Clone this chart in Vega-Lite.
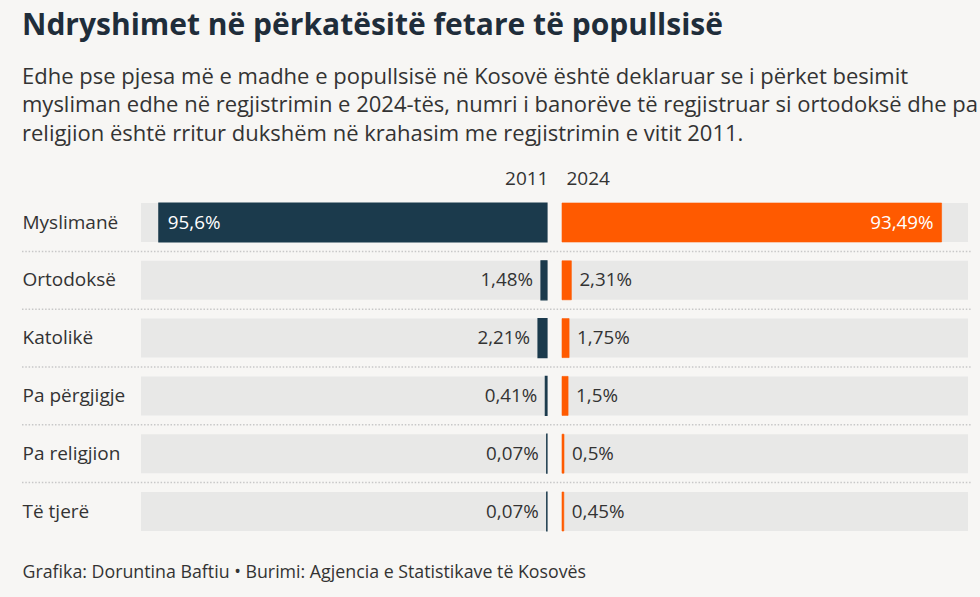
{
  "$schema": "https://vega.github.io/schema/vega-lite/v6.json",
  "width": 829,
  "height": 346.8,
  "autosize": {"type": "none"},
  "padding": {"left": 141, "top": 193.6, "right": 10, "bottom": 56.6},
  "background": "#f7f6f4",
  "title": {
    "text": "Ndryshimet në përkatësitë fetare të popullsisë",
    "subtitle": [
      "Edhe pse pjesa më e madhe e popullsisë në Kosovë është deklaruar se i përket besimit",
      "mysliman edhe në regjistrimin e 2024-tës, numri i banorëve të regjistruar si ortodoksë dhe pa",
      "religjion është rritur dukshëm në krahasim me regjistrimin e vitit 2011."
    ],
    "anchor": "start",
    "frame": "group",
    "dx": -119,
    "offset": 25,
    "font": "Open Sans",
    "fontSize": 30,
    "fontWeight": "bold",
    "color": "#1f2d3a",
    "subtitleFont": "Open Sans",
    "subtitleFontSize": 22,
    "subtitleColor": "#333333",
    "subtitleLineHeight": 28.5,
    "subtitlePadding": 26
  },
  "data": {
    "values": [
      {"religion": "Myslimanë", "v2011": 95.6, "v2024": 93.49, "l2011": "95,6%", "l2024": "93,49%"},
      {"religion": "Ortodoksë", "v2011": 1.48, "v2024": 2.31, "l2011": "1,48%", "l2024": "2,31%"},
      {"religion": "Katolikë", "v2011": 2.21, "v2024": 1.75, "l2011": "2,21%", "l2024": "1,75%"},
      {"religion": "Pa përgjigje", "v2011": 0.41, "v2024": 1.5, "l2011": "0,41%", "l2024": "1,5%"},
      {"religion": "Pa religjion", "v2011": 0.07, "v2024": 0.5, "l2011": "0,07%", "l2024": "0,5%"},
      {"religion": "Të tjerë", "v2011": 0.07, "v2024": 0.45, "l2011": "0,07%", "l2024": "0,45%"}
    ]
  },
  "encoding": {
    "y": {
      "field": "religion",
      "type": "nominal",
      "sort": null,
      "scale": {
        "domain": ["Myslimanë", "Ortodoksë", "Katolikë", "Pa përgjigje", "Pa religjion", "Të tjerë"],
        "paddingInner": 0,
        "paddingOuter": 0
      },
      "axis": {
        "title": null,
        "orient": "left",
        "domain": false,
        "ticks": false,
        "tickSize": 0,
        "labelAlign": "left",
        "labelPadding": 119,
        "labelFont": "Open Sans",
        "labelFontSize": 19,
        "labelColor": "#333333",
        "labelBaseline": "middle"
      }
    }
  },
  "layer": [
    {
      "mark": {"type": "bar", "height": {"band": 0.675}, "color": "#e8e8e7"},
      "encoding": {
        "x": {
          "datum": 0,
          "type": "quantitative",
          "scale": {"domain": [0, 100], "range": [406, 0]},
          "axis": {
            "orient": "top",
            "title": "2011",
            "labels": false,
            "ticks": false,
            "domain": false,
            "grid": false,
            "titleX": 407,
            "titleAlign": "right",
            "titlePadding": 5,
            "titleFont": "Open Sans",
            "titleFontSize": 19,
            "titleFontWeight": "normal",
            "titleColor": "#333333"
          }
        },
        "x2": {"datum": 100}
      }
    },
    {
      "mark": {"type": "bar", "height": {"band": 0.675}, "color": "#e8e8e7"},
      "encoding": {
        "x": {
          "datum": 0,
          "type": "quantitative",
          "scale": {"domain": [0, 100], "range": [421, 827]},
          "axis": {
            "orient": "top",
            "title": "2024",
            "labels": false,
            "ticks": false,
            "domain": false,
            "grid": false,
            "titleX": 425,
            "titleAlign": "left",
            "titlePadding": 5,
            "titleFont": "Open Sans",
            "titleFontSize": 19,
            "titleFontWeight": "normal",
            "titleColor": "#333333"
          }
        },
        "x2": {"datum": 100}
      }
    },
    {
      "transform": [{"filter": "datum.religion !== 'Myslimanë'"}],
      "mark": {"type": "rule", "color": "#c8c8c8", "strokeWidth": 1.5, "strokeDash": [1.5, 1.8]},
      "encoding": {
        "y": {"field": "religion", "type": "nominal", "bandPosition": 0},
        "x": {
          "datum": 0,
          "type": "quantitative",
          "scale": {"domain": [0, 100], "range": [-119, 831]},
          "axis": {
            "orient": "bottom",
            "title": "Grafika: Doruntina Baftiu • Burimi: Agjencia e Statistikave të Kosovës",
            "labels": false,
            "ticks": false,
            "domain": false,
            "grid": false,
            "titleX": -119,
            "titleAlign": "left",
            "titlePadding": 23,
            "titleFont": "Open Sans",
            "titleFontSize": 17.8,
            "titleFontWeight": "normal",
            "titleColor": "#333333"
          }
        },
        "x2": {"datum": 100}
      }
    },
    {
      "mark": {"type": "bar", "height": {"band": 0.675}, "color": "#1b3a4c", "stroke": "#1b3a4c", "strokeWidth": 1.2},
      "encoding": {
        "x": {"field": "v2011", "type": "quantitative", "scale": {"domain": [0, 100], "range": [406, 0]}, "axis": null},
        "x2": {"datum": 0}
      }
    },
    {
      "mark": {"type": "bar", "height": {"band": 0.675}, "color": "#ff5a00", "stroke": "#ff5a00", "strokeWidth": 0.6},
      "encoding": {
        "x": {"field": "v2024", "type": "quantitative", "scale": {"domain": [0, 100], "range": [421, 827]}, "axis": null},
        "x2": {"datum": 0}
      }
    },
    {
      "transform": [{"filter": "datum.v2011 < 50"}],
      "mark": {"type": "text", "align": "right", "baseline": "middle", "dx": -8, "font": "Open Sans", "fontSize": 18.8, "color": "#333333"},
      "encoding": {
        "x": {"field": "v2011", "type": "quantitative", "scale": {"domain": [0, 100], "range": [406, 0]}, "axis": null},
        "text": {"field": "l2011"}
      }
    },
    {
      "transform": [{"filter": "datum.v2011 >= 50"}],
      "mark": {"type": "text", "align": "left", "baseline": "middle", "dx": 9, "font": "Open Sans", "fontSize": 18.8, "color": "#ffffff"},
      "encoding": {
        "x": {"field": "v2011", "type": "quantitative", "scale": {"domain": [0, 100], "range": [406, 0]}, "axis": null},
        "text": {"field": "l2011"}
      }
    },
    {
      "transform": [{"filter": "datum.v2024 < 50"}],
      "mark": {"type": "text", "align": "left", "baseline": "middle", "dx": 8, "font": "Open Sans", "fontSize": 18.8, "color": "#333333"},
      "encoding": {
        "x": {"field": "v2024", "type": "quantitative", "scale": {"domain": [0, 100], "range": [421, 827]}, "axis": null},
        "text": {"field": "l2024"}
      }
    },
    {
      "transform": [{"filter": "datum.v2024 >= 50"}],
      "mark": {"type": "text", "align": "right", "baseline": "middle", "dx": -8, "font": "Open Sans", "fontSize": 18.8, "color": "#ffffff"},
      "encoding": {
        "x": {"field": "v2024", "type": "quantitative", "scale": {"domain": [0, 100], "range": [421, 827]}, "axis": null},
        "text": {"field": "l2024"}
      }
    }
  ],
  "resolve": {"scale": {"x": "independent"}, "axis": {"x": "independent"}},
  "config": {"view": {"stroke": null}}
}
